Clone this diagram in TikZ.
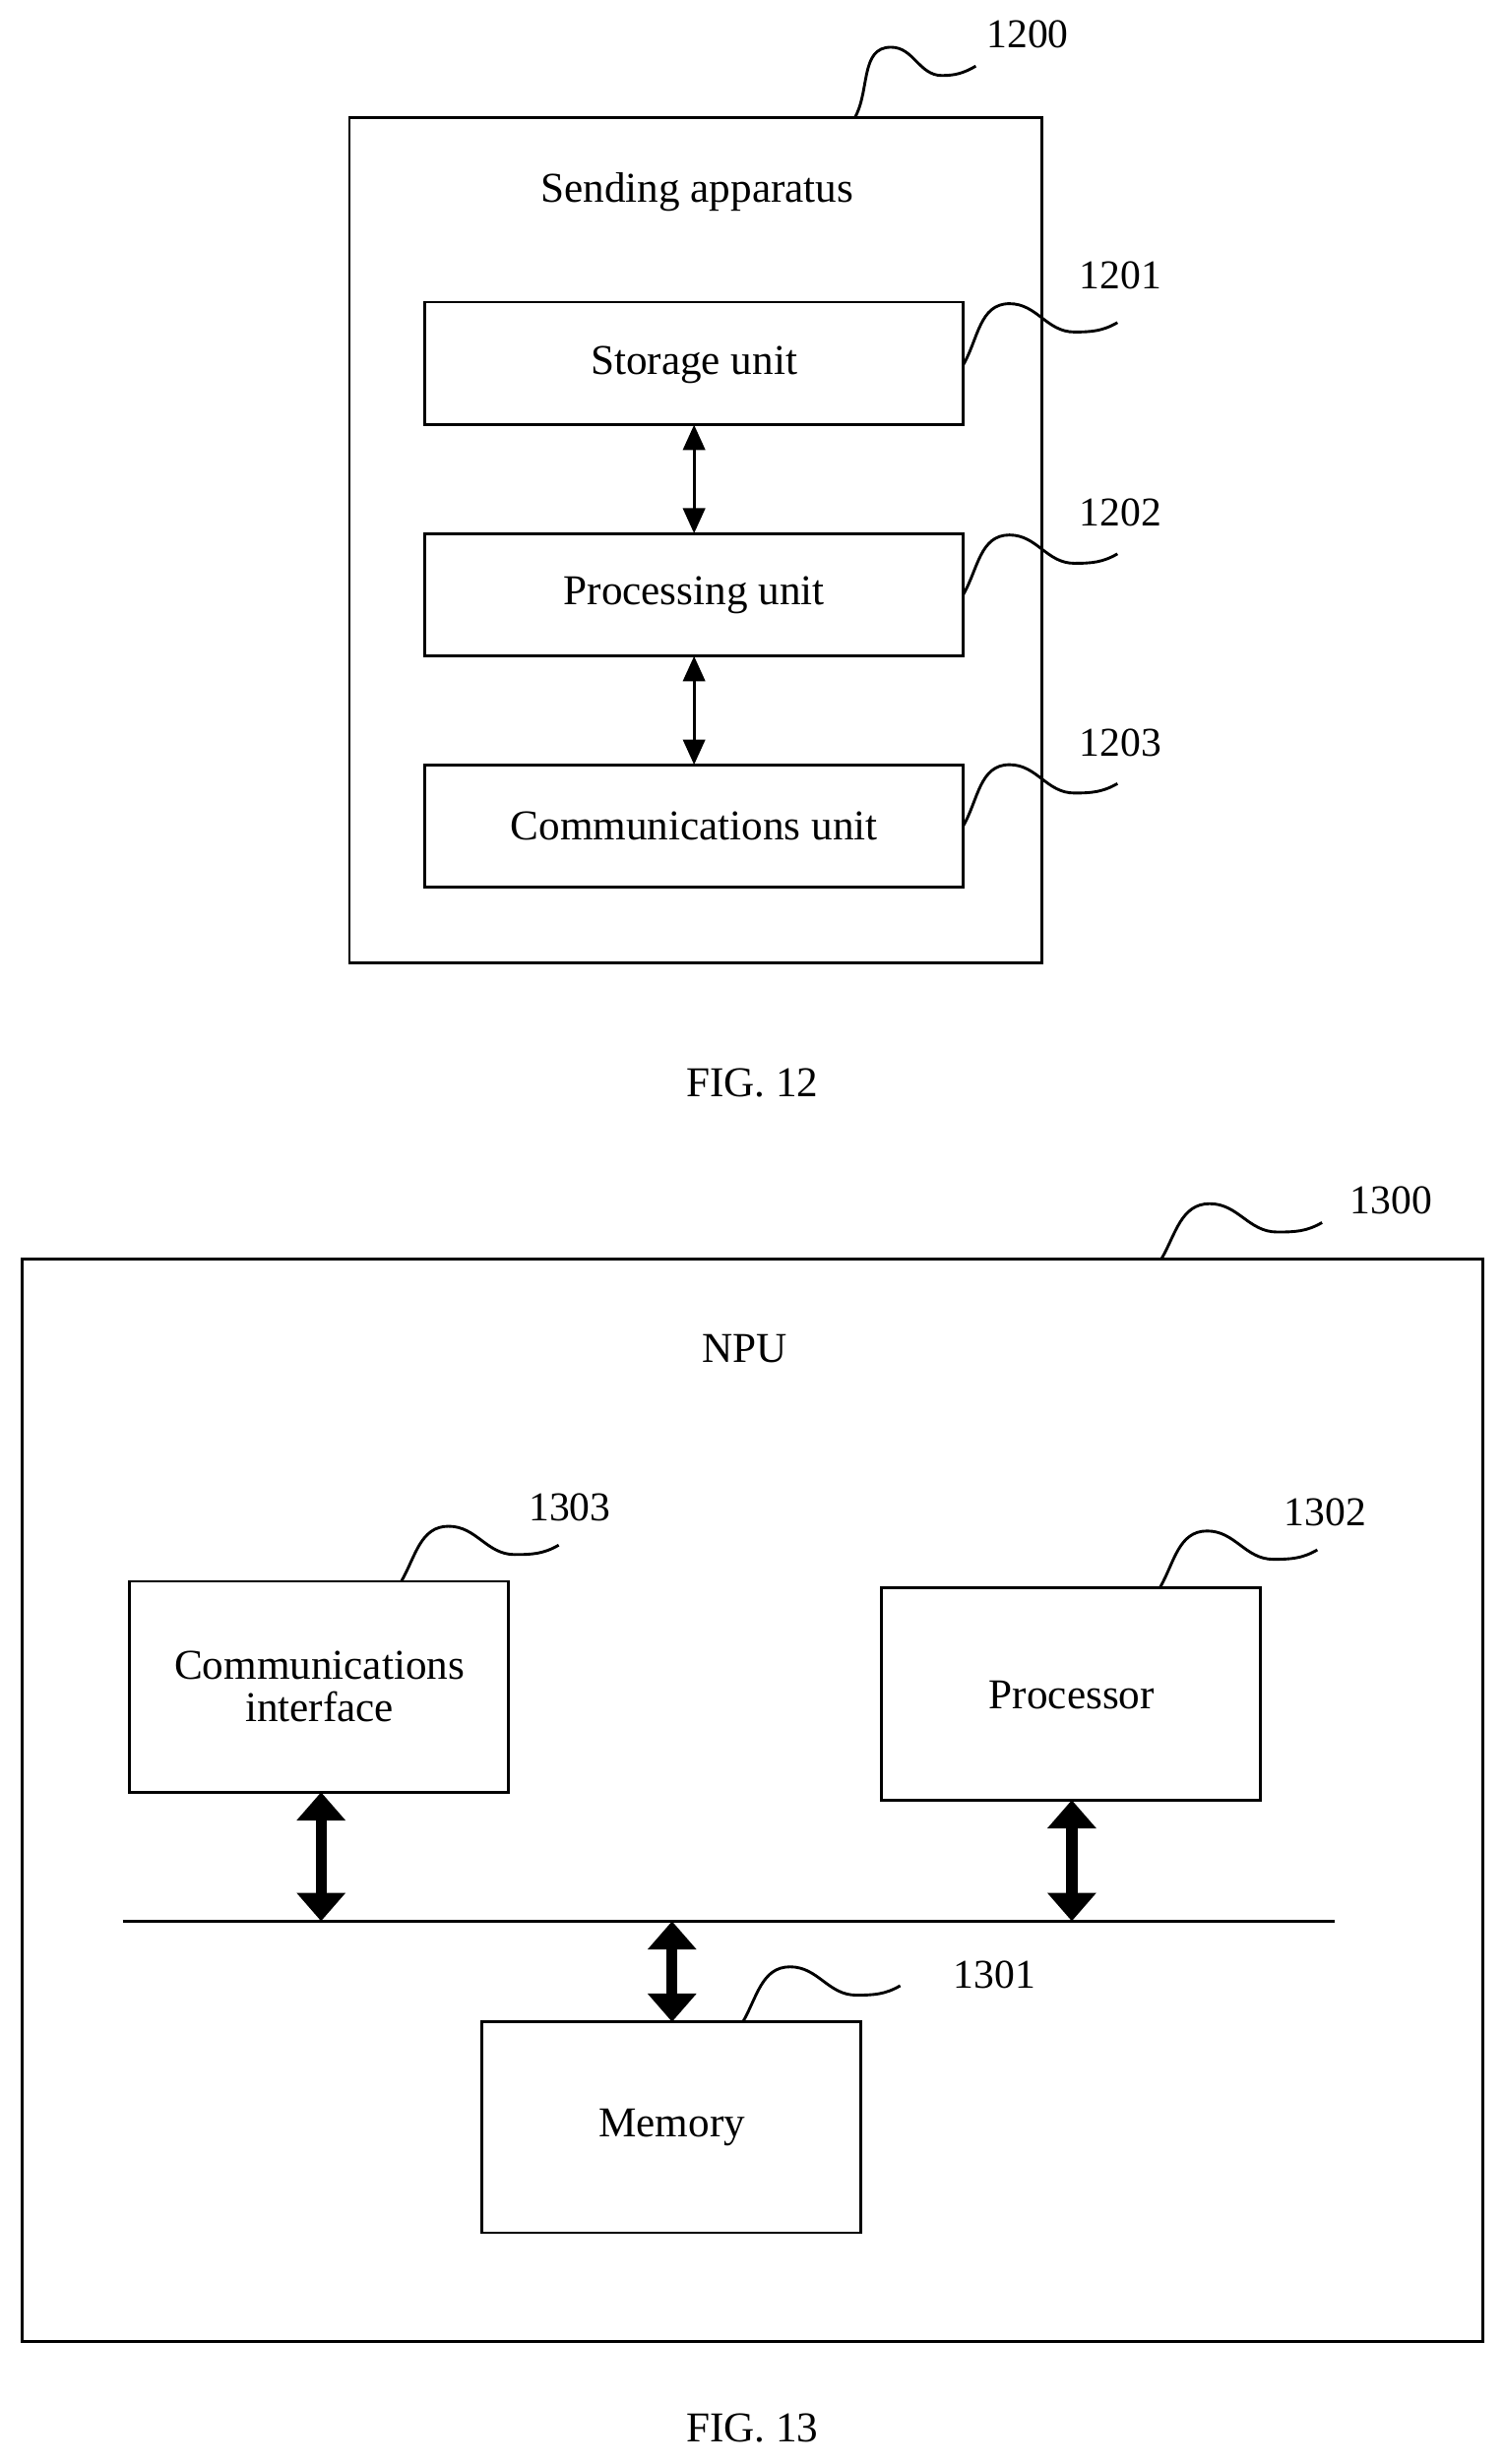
\documentclass[tikz,border=0pt]{standalone}
\usepackage{fontspec}
\setmainfont{Liberation Serif}
\usetikzlibrary{arrows.meta}
\begin{document}
\begin{tikzpicture}[x=1pt,y=-1pt,
  box/.style={draw,line width=1.8pt},
  txt/.style={font=\fontsize{27}{31}\selectfont,align=center},
  lab/.style={font=\fontsize{26}{30}\selectfont},
  sq/.style={line width=1.8pt},
  thin/.style={line width=1.8pt,{Triangle[width=14pt,length=16pt]}-{Triangle[width=14pt,length=16pt]}},
  fat/.style={line width=7pt,{Triangle[width=30pt,length=18pt]}-{Triangle[width=30pt,length=18pt]}}]
\useasboundingbox (0,0) rectangle (955,1566);
% FIG 12
\draw[box] (222,75) rectangle (662,612);
\node[txt] (t12) at (443,122) {Sending apparatus};
\draw[box] (270,192) rectangle (612,270); \node[txt] (su) at (441,232) {Storage unit};
\draw[box] (270,339) rectangle (612,417); \node[txt] (pu) at (441,378) {Processing unit};
\draw[box] (270,486) rectangle (612,564); \node[txt] (cu) at (441,525) {Communications unit};
\coordinate (a1) at (441,270); \coordinate (a2) at (441,339);
\coordinate (a3) at (441,417); \coordinate (a4) at (441,486);
\draw[thin] (a1) -- (a2); \draw[thin] (a3) -- (a4);
\foreach \sx/\sy/\ex/\ey in {543/75/620/42, 612/232/710/205, 612/378/710/352, 612/525/710/498,
   738/800/840/777, 255/1005/355/982, 737/1009/837/985, 472/1285/572/1262}{
  \pgfmathsetmacro{\pa}{\sx+0.3*(\ex-\sx)}
  \pgfmathsetmacro{\pb}{\ey-12}
  \pgfmathsetmacro{\pc}{\sx+0.72*(\ex-\sx)}
  \pgfmathsetmacro{\pd}{\ey+6}
  \draw[sq] (\sx,\sy) to[out=60,in=180] (\pa,\pb)
     to[out=0,in=180] (\pc,\pd) to[out=0,in=210] (\ex,\ey);
}
\node[lab] (l1200) at (653,22) {1200};
\node[lab] (l1201) at (712,175) {1201};
\node[lab] (l1202) at (712,326) {1202};
\node[lab] (l1203) at (712,472) {1203};
\node[txt] (f12) at (478,688) {FIG. 12};
% FIG 13
\draw[box] (14,800) rectangle (942,1488);
\node[lab] (l1300) at (884,763) {1300};
\node[txt] (npu) at (473,857) {NPU};
\draw[box] (82,1005) rectangle (323,1139);
\node[txt] (ci) at (203,1072) {Communications\\[-4pt]interface};
\node[lab] (l1303) at (362,958) {1303};
\draw[box] (560,1009) rectangle (801,1144);
\node[txt] (pr) at (681,1077) {Processor};
\node[lab] (l1302) at (842,961) {1302};
\draw[line width=1.8pt] (78,1221) coordinate (b1) -- (848,1221) coordinate (b2);
\draw[box] (306,1285) rectangle (547,1419);
\node[txt] (me) at (427,1352) {Memory};
\node[lab] (l1301) at (632,1255) {1301};
\draw[fat] (204,1139) -- (204,1221);
\draw[fat] (681,1144) -- (681,1221);
\draw[fat] (427,1221) -- (427,1285);
\node[txt] (f13) at (478,1543) {FIG. 13};
\end{tikzpicture}
\end{document}
